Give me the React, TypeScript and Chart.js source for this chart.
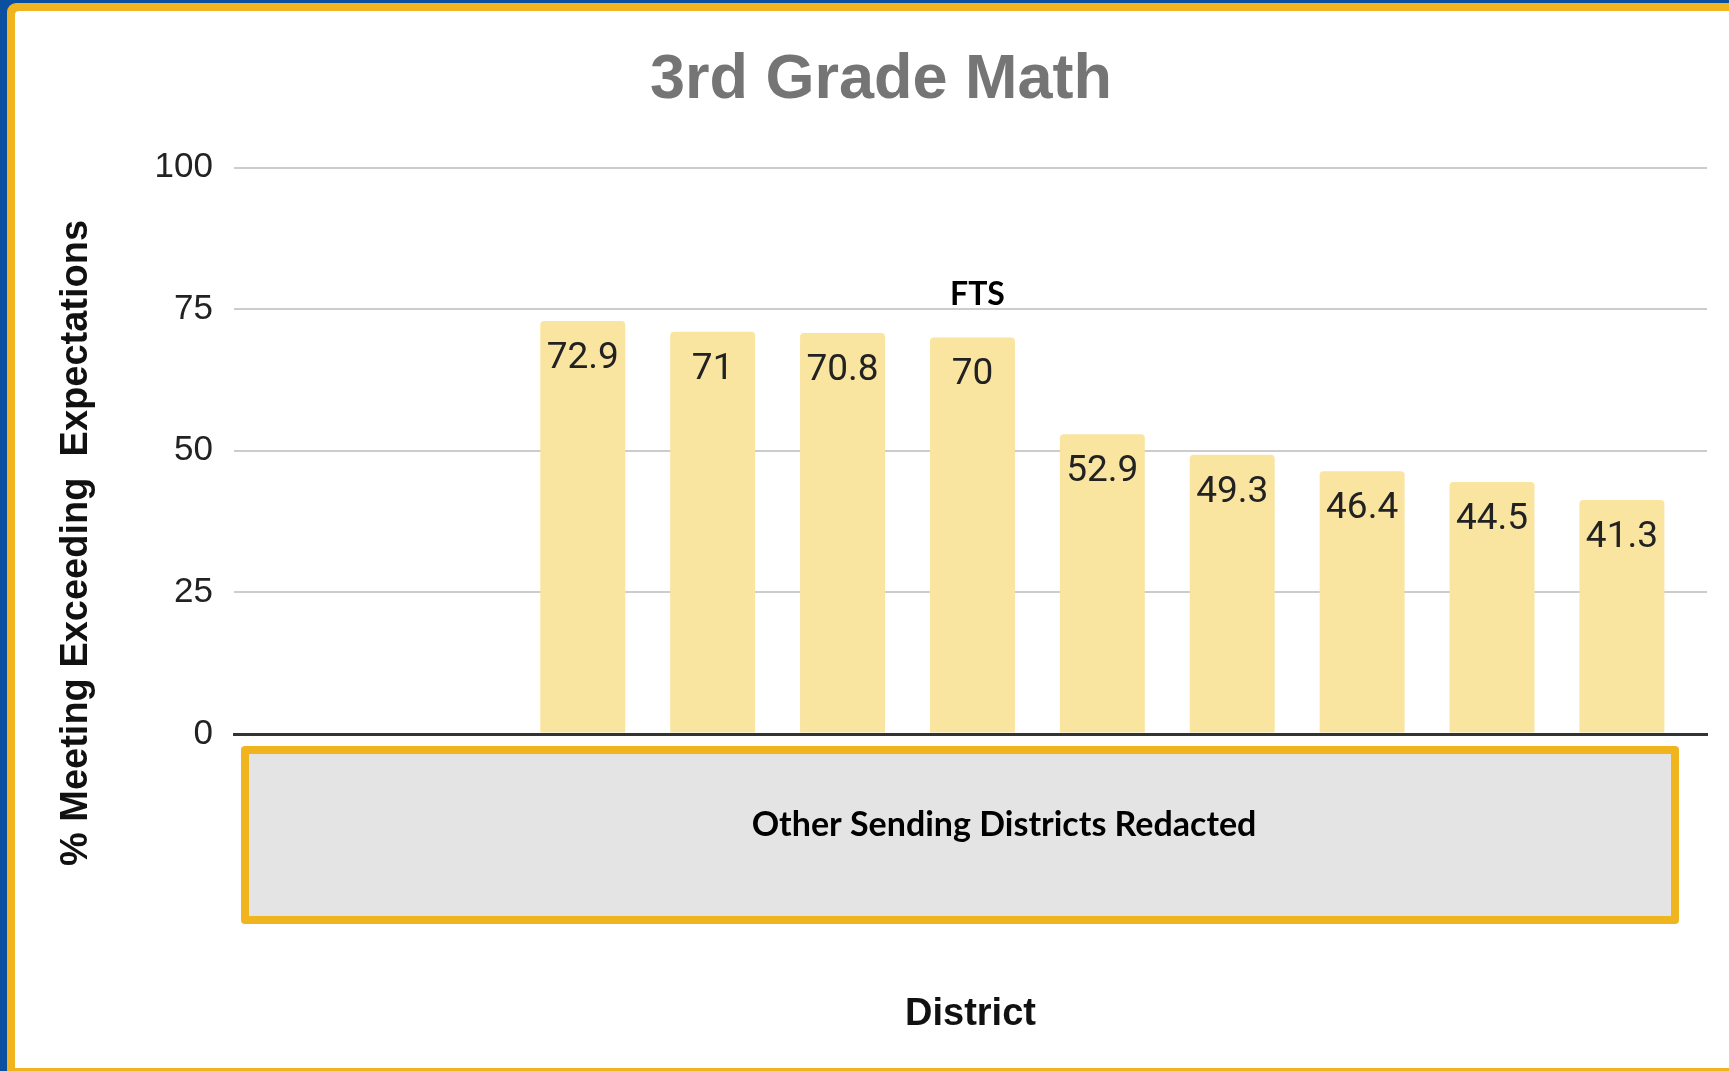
import React, { useEffect, useRef } from "react";
import { Chart, registerables } from "chart.js";

Chart.register(...registerables);

// ---- Data ----
const districts: string[] = [
  "Redacted 1",
  "Redacted 2",
  "Redacted 3",
  "Redacted 4",
  "Redacted 5",
  "FTS",
  "Redacted 6",
  "Redacted 7",
  "Redacted 8",
  "Redacted 9",
  "Redacted 10",
];
const values: (number | null)[] = [null, null, 72.9, 71, 70.8, 70, 52.9, 49.3, 46.4, 44.5, 41.3];
const yTicks: number[] = [0, 25, 50, 75, 100];
const highlightDistrict = "FTS";
const chartTitle = "3rd Grade Math";
const yTitle = "% Meeting Exceeding  Expectations";
const xTitle = "District";
const redactedNote = "Other Sending Districts Redacted";

const W = 1729;
const H = 1071;
const BLUE = "#0A4FA0";
const GOLD = "#F0B41E";
const X_MIN = -0.685;
const X_MAX = districts.length - 1 + 0.655;

const overlay = {
  id: "overlay",
  afterDatasetsDraw(chart: any) {
    const ctx = chart.ctx as CanvasRenderingContext2D;
    const meta = chart.getDatasetMeta(0);
    ctx.save();
    ctx.textAlign = "center";
    ctx.textBaseline = "alphabetic";
    meta.data.forEach((bar: any, i: number) => {
      const v = values[i];
      if (v === null || v === undefined) return;
      ctx.font = "37px Roboto";
      ctx.fillStyle = "#222222";
      ctx.fillText(String(v), bar.x, bar.y + 47);
      if (districts[i] === highlightDistrict) {
        ctx.font = "bold 32px Lato";
        ctx.fillStyle = "#000000";
        ctx.fillText(highlightDistrict, bar.x + 5, bar.y - 32);
      }
    });
    ctx.restore();
  },
  afterDraw(chart: any) {
    const ctx = chart.ctx as CanvasRenderingContext2D;
    // rotated y-axis title
    ctx.save();
    ctx.translate(87, 543);
    ctx.rotate(-Math.PI / 2);
    ctx.font = "bold 38px 'Liberation Sans'";
    ctx.fillStyle = "#111111";
    ctx.textAlign = "center";
    ctx.textBaseline = "alphabetic";
    ctx.fillText(yTitle, 0, 0);
    ctx.restore();

    // redaction box over category labels
    ctx.save();
    ctx.fillStyle = GOLD;
    ctx.beginPath();
    (ctx as any).roundRect(241, 746, 1438, 178, 4);
    ctx.fill();
    ctx.fillStyle = "#E4E4E4";
    ctx.fillRect(249, 754, 1422, 162);
    ctx.font = "bold 34px Lato";
    ctx.fillStyle = "#000000";
    ctx.textAlign = "center";
    ctx.textBaseline = "alphabetic";
    ctx.fillText(redactedNote, 1004, 836);
    ctx.restore();
  },
};

export default function App() {
  const canvasRef = useRef<HTMLCanvasElement | null>(null);

  useEffect(() => {
    const canvas = canvasRef.current;
    if (!canvas) return;
    const chart = new Chart(canvas, {
      type: "bar",
      data: {
        labels: districts,
        datasets: [
          {
            data: values.map((v, i) => ({ x: i, y: v })) as any,
            backgroundColor: "#F9E4A0",
            borderWidth: 0,
            borderRadius: { topLeft: 4, topRight: 4, bottomLeft: 0, bottomRight: 0 },
            borderSkipped: false,
            barPercentage: 0.654,
            categoryPercentage: 1,
          },
        ],
      },
      options: {
        animation: false,
        responsive: false,
        maintainAspectRatio: false,
        devicePixelRatio: 1,
        layout: { padding: { left: 55, right: 22, top: 0, bottom: 34 } },
        plugins: {
          legend: { display: false },
          tooltip: { enabled: false },
          title: {
            display: true,
            text: chartTitle,
            color: "#757575",
            font: { family: "'Liberation Sans'", size: 63, weight: "bold", lineHeight: 1.2 },
            padding: { top: 43.2, bottom: 48.7 },
          },
        },
        scales: {
          x: {
            type: "linear",
            offset: false,
            bounds: "data",
            min: X_MIN,
            max: X_MAX,
            afterBuildTicks: (scale: any) => {
              scale.min = X_MIN;
              scale.max = X_MAX;
              scale.ticks = districts.map((_, i) => ({ value: i }));
            },
            ticks: { display: false },
            grid: { display: false, drawTicks: false, offset: false },
            border: { display: true, color: "#333333", width: 3 },
            title: {
              display: true,
              text: xTitle,
              color: "#111111",
              font: { family: "'Liberation Sans'", size: 38, weight: "bold", lineHeight: 1.2 },
              padding: { top: 257.4, bottom: 0 },
            },
          },
          y: {
            min: 0,
            max: 100,
            afterBuildTicks: (scale: any) => {
              scale.ticks = yTicks.map((v) => ({ value: v }));
            },
            afterFit: (scale: any) => {
              scale.width = 179;
            },
            ticks: {
              color: "#222222",
              padding: 21,
              font: { family: "'Liberation Sans'", size: 35 },
            },
            grid: {
              drawTicks: false,
              color: (c: any) => (c.tick && c.tick.value === 0 ? "#333333" : "#CCCCCC"),
              lineWidth: (c: any) => (c.tick && c.tick.value === 0 ? 3 : 2),
            },
            border: { display: false },
          },
        },
      },
      plugins: [overlay],
    });
    return () => chart.destroy();
  }, []);

  return (
    <div
      style={{
        position: "fixed",
        left: 0,
        top: 0,
        width: W,
        height: H,
        background: BLUE,
        overflow: "hidden",
      }}
    >
      <div
        style={{
          position: "absolute",
          left: 7,
          top: 3,
          width: W + 20,
          height: H + 20,
          background: GOLD,
          borderTopLeftRadius: 9,
        }}
      />
      <div
        style={{
          position: "absolute",
          left: 15,
          top: 11,
          width: W + 20,
          height: H - 3 - 11,
          background: "#FFFFFF",
          borderTopLeftRadius: 4,
        }}
      />
      <canvas
        ref={canvasRef}
        width={W}
        height={H}
        style={{ position: "absolute", left: 0, top: 0, width: W, height: H }}
      />
    </div>
  );
}
